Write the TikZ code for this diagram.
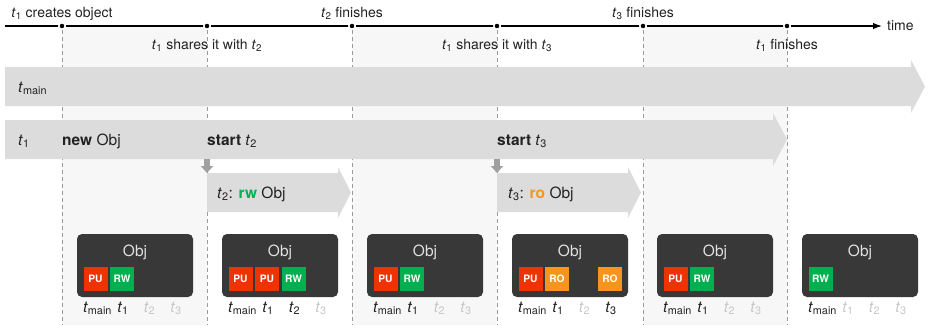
\documentclass[tikz,border=0pt]{standalone}
\usepackage{fontspec}
\setmainfont{TeX Gyre Heros}
\usetikzlibrary{arrows.meta}
\definecolor{bandgray}{HTML}{DCDCDD}
\definecolor{shadegray}{HTML}{F7F7F7}
\definecolor{dashgray}{HTML}{9A9A9A}
\definecolor{boxgray}{HTML}{383838}
\definecolor{objtext}{HTML}{E0E0E0}
\definecolor{pured}{HTML}{EE3300}
\definecolor{rwgreen}{HTML}{00B050}
\definecolor{roorange}{HTML}{F7941D}
\definecolor{inkdark}{HTML}{222222}
\definecolor{offgray}{HTML}{C8C8C8}
\definecolor{droparrow}{HTML}{A0A0A0}
\newcommand\tsub[1]{\textit{t}\textsubscript{#1}}
\begin{document}
\begin{tikzpicture}[x=1pt,y=-1pt,
  lab/.style={font=\fontsize{14}{16}\selectfont, text=inkdark, inner sep=0pt, anchor=base},
  bandtxt/.style={font=\fontsize{15.5}{18}\selectfont, text=inkdark, inner sep=0pt, anchor=base west},
  dot/.style={circle, fill=black, draw=white, line width=1.5pt, minimum size=6.5pt, inner sep=0pt},
  objbox/.style={fill=boxgray, rounded corners=5pt, minimum width=116pt, minimum height=63pt, inner sep=0pt},
  objlbl/.style={font=\fontsize{15.5}{18}\selectfont, text=objtext, inner sep=0pt},
  sq/.style={minimum size=24pt, inner sep=0pt, text=white, font=\fontsize{10.2}{11}\selectfont\bfseries},
  pu/.style={sq, fill=pured}, rw/.style={sq, fill=rwgreen}, ro/.style={sq, fill=roorange},
  thr/.style={font=\fontsize{15.5}{18}\selectfont, text=inkdark, inner sep=0pt, anchor=base},
  drop/.style={draw=droparrow, line width=6pt, -{Triangle[length=7pt,width=12pt]}}
]
\useasboundingbox (0,0) rectangle (928,330);

% shaded periods
\foreach \a/\b in {62/207,352/497,643/787} \fill[shadegray] (\a,27) rectangle (\b,325);
% dashed guides
\foreach \x in {62,207,352,497,643,787}
  \draw[dashgray, line width=0.8pt, dash pattern=on 4pt off 3pt] (\x,30) -- (\x,325);

% timeline
\coordinate (tlstart) at (5,26);
\coordinate (tlend) at (882,26);
\draw[line width=1.3pt, -{Latex[length=9pt,width=6.5pt]}] (tlstart) -- (tlend);
\node[lab, anchor=west] (time) at (887,25.5) {time};
\foreach \n/\x in {1/62,2/207,3/352,4/497,5/643,6/787} \node[dot] (d\n) at (\x,26) {};

\node[lab] (l1) at (62,17) {\tsub{1} creates object};
\node[lab] (l2) at (207,49) {\tsub{1} shares it with \tsub{2}};
\node[lab] (l3) at (352,17) {\tsub{2} finishes};
\node[lab] (l4) at (497,49) {\tsub{1} shares it with \tsub{3}};
\node[lab] (l5) at (643,17) {\tsub{3} finishes};
\node[lab] (l6) at (787,49) {\tsub{1} finishes};

% thread bands
\fill[bandgray] (5,67) -- (911,67) -- (911,60) -- (925,86.5) -- (911,113) -- (911,106) -- (5,106) -- cycle;
\fill[bandgray] (5,120) -- (773,120) -- (773,113) -- (787,139.5) -- (773,166) -- (773,159) -- (5,159) -- cycle;
\fill[bandgray] (207,173) -- (338,173) -- (338,167) -- (351,192.5) -- (338,218) -- (338,212) -- (207,212) -- cycle;
\fill[bandgray] (497,173) -- (628,173) -- (628,167) -- (641,192.5) -- (628,218) -- (628,212) -- (497,212) -- cycle;

\node[bandtxt] (tmainlbl) at (18,92) {\tsub{main}};
\node[bandtxt] (t1lbl) at (18,145) {\tsub{1}};
\node[bandtxt] (newobj) at (62,145) {\textbf{new} Obj};
\node[bandtxt] (start2) at (207,145) {\textbf{start} \tsub{2}};
\node[bandtxt] (t2lbl) at (217,198) {\tsub{2}: \textcolor{rwgreen}{\textbf{rw}} Obj};
\node[bandtxt] (start3) at (497,145) {\textbf{start} \tsub{3}};
\node[bandtxt] (t3lbl) at (508,198) {\tsub{3}: \textcolor{roorange}{\textbf{ro}} Obj};

% spawn arrows
\coordinate (s2a) at (207,159); \coordinate (s2b) at (207,173);
\coordinate (s3a) at (497,159); \coordinate (s3b) at (497,173);
\draw[drop] (s2a) -- (s2b);
\draw[drop] (s3a) -- (s3b);

% object boxes
\foreach \k/\ca/\cb/\cc in {1/inkdark/offgray/offgray,2/inkdark/inkdark/offgray,3/inkdark/offgray/offgray,4/inkdark/offgray/inkdark,5/inkdark/offgray/offgray,6/offgray/offgray/offgray}{
  \pgfmathsetmacro{\cx}{135+145*(\k-1)}
  \node[objbox] (box\k) at (\cx,265.5) {};
  \node[objlbl] (obj\k) at (\cx,252) {Obj};
  \node[thr] (m\k) at (\cx-37.5,312) {\tsub{main}};
  \node[thr, text=\ca] (a\k) at (\cx-12,312) {\tsub{1}};
  \node[thr, text=\cb] (b\k) at (\cx+14.5,312) {\tsub{2}};
  \node[thr, text=\cc] (c\k) at (\cx+41,312) {\tsub{3}};
}
\node[pu] (q11) at (95.5,279) {PU};
\node[rw] (q12) at (122,279) {RW};
\node[pu] (q21) at (240.5,279) {PU};
\node[pu] (q22) at (267,279) {PU};
\node[rw] (q23) at (293.5,279) {RW};
\node[pu] (q31) at (385.5,279) {PU};
\node[rw] (q32) at (412,279) {RW};
\node[pu] (q41) at (530.5,279) {PU};
\node[ro] (q42) at (557,279) {RO};
\node[ro] (q44) at (610,279) {RO};
\node[pu] (q51) at (675.5,279) {PU};
\node[rw] (q52) at (702,279) {RW};
\node[rw] (q61) at (820.5,279) {RW};
\end{tikzpicture}
\end{document}
